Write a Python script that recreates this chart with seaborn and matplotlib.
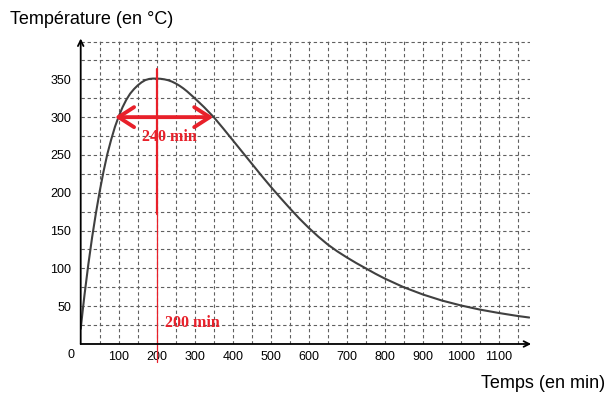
import matplotlib
matplotlib.use("Agg")
import matplotlib.pyplot as plt
import seaborn as sns
import pandas as pd

# values
temps_min = [0, 5, 10, 20, 30, 40, 50, 60, 70, 80, 90, 100, 110, 120, 130, 140, 150,
             160, 170, 180, 190, 200, 210, 220, 230, 240, 250, 260, 270, 280, 290,
             300, 325, 350, 375, 400, 425, 450, 475, 500, 525, 550, 575, 600, 625,
             650, 675, 700, 725, 750, 775, 800, 850, 900, 950, 1000, 1050, 1100,
             1150, 1180]
temperature = [20, 43, 65, 105, 141, 173, 202, 228, 251, 270, 287, 301, 313, 323, 331, 337, 342,
               346, 349, 350.5, 351, 351, 350.7, 350, 348.8, 347, 344.5, 341.5, 338, 334, 329.5,
               325, 313, 300, 285, 269.5, 254, 238.5, 223, 208, 193.5, 179.5, 166, 153.5, 142,
               131.5, 122.5, 114.5, 107, 100, 93, 86.5, 75, 65.5, 57.5, 51, 45.5, 41,
               37, 35]

x_ticks = [100, 200, 300, 400, 500, 600, 700, 800, 900, 1000, 1100]
y_ticks = [50, 100, 150, 200, 250, 300, 350]
x_grid = list(range(50, 1200, 50))
y_grid = list(range(25, 425, 25))

peak_t = 200
width_level = 300
width_start, width_end = 90, 349

df = pd.DataFrame({"t": temps_min, "T": temperature})

sns.set_style("white")
plt.rcParams["font.family"] = ["Liberation Sans", "DejaVu Sans"]
plt.rcParams["text.color"] = "black"
plt.rcParams["xtick.color"] = "black"
plt.rcParams["ytick.color"] = "black"

red = "#e8202a"
fig = plt.figure(figsize=(6.1, 3.93), dpi=100)
ax = fig.add_axes([0.1323, 0.1247, 0.7366, 0.7735])

ax.set_xlim(0, 1182)
ax.set_ylim(0, 402)
for s in ax.spines.values():
    s.set_visible(False)

ax.set_xticks(x_ticks)
ax.set_xticklabels([str(v) for v in x_ticks])
ax.set_yticks(y_ticks)
ax.set_yticklabels([str(v) for v in y_ticks])
ax.set_xticks(x_grid, minor=True)
ax.set_yticks(y_grid, minor=True)
ax.tick_params(axis="x", which="major", direction="inout", length=8, width=1.2,
               labelsize=9, pad=1)
ax.tick_params(axis="y", which="major", direction="out", length=4, width=1.2,
               labelsize=9, pad=3)
ax.tick_params(which="minor", length=0)
ax.grid(which="both", color="#606060", linestyle=(0, (3, 2.5)), linewidth=0.8)
ax.set_axisbelow(True)

# axes with arrows
ax.annotate("", xy=(1185, 0), xytext=(0, 0), xycoords="data",
            arrowprops=dict(arrowstyle="->", color="black", lw=1.3, shrinkA=0, shrinkB=0),
            annotation_clip=False)
ax.annotate("", xy=(0, 404), xytext=(0, 0), xycoords="data",
            arrowprops=dict(arrowstyle="->", color="black", lw=1.3, shrinkA=0, shrinkB=0),
            annotation_clip=False)

sns.lineplot(data=df, x="t", y="T", ax=ax, color="#404040", lw=1.5)
ax.set_xlabel("")
ax.set_ylabel("")

# red annotations
ax.plot([peak_t, peak_t], [172, 364], color=red, lw=1.6, clip_on=False)
ax.plot([peak_t, peak_t], [-24, 172], color=red, lw=0.9, clip_on=False)
ax.annotate("", xy=(width_start, width_level), xytext=(width_end, width_level),
            arrowprops=dict(arrowstyle="<->,head_length=0.7,head_width=0.45",
                            color=red, lw=2.8, shrinkA=0, shrinkB=0,
                            mutation_scale=16))
ax.text(232, 274, "240 min", color=red, fontsize=11.5, fontweight="bold",
        family=["Liberation Serif", "DejaVu Serif"], ha="center", va="center")
ax.text(222, 28, "200 min", color=red, fontsize=11.5, fontweight="bold",
        family=["Liberation Serif", "DejaVu Serif"], ha="left", va="center")

ax.text(-25, -15, "0", fontsize=9, ha="center", va="center")
fig.text(10 / 610, 1 - 20 / 393, "Température (en °C)", fontsize=13, ha="left", va="center")
fig.text(605 / 610, 1 - 383 / 393, "Temps (en min)", fontsize=13, ha="right", va="center")

fig.savefig("out.png", dpi=100)
